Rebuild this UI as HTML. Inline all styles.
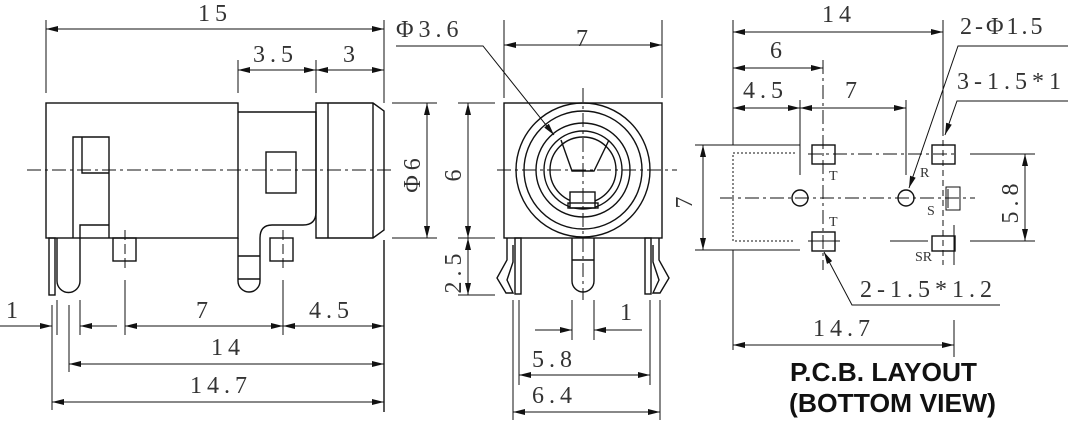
<!DOCTYPE html>
<html><head><meta charset="utf-8"><style>
html,body{margin:0;padding:0;background:#fff;}
svg{display:block;}
.t{font-family:"Liberation Serif",serif;font-size:24px;fill:#333;letter-spacing:5px;}
.s{font-family:"Liberation Serif",serif;font-size:14px;fill:#333;}
.b{font-family:"Liberation Sans",sans-serif;font-weight:bold;font-size:26px;fill:#111;}
</style></head><body>
<svg width="1069" height="422" viewBox="0 0 1069 422" xmlns="http://www.w3.org/2000/svg">
<defs>
<marker id="a" viewBox="0 0 12 6" refX="12" refY="3" markerWidth="12" markerHeight="6" markerUnits="userSpaceOnUse" orient="auto-start-reverse"><path d="M0,0 L12,3 L0,6 z" fill="#111"/></marker>
</defs>
<g stroke="#111" stroke-width="1.4" fill="none">
<!-- LEFT VIEW -->
<line x1="27" y1="170" x2="392" y2="170" stroke-dasharray="14,4,3,4" stroke-width="1"/>
<rect x="46" y="103" width="192" height="135"/>
<path d="M238,112 H316 V212 Q316,225 303,225 H272 Q260,225 260,238"/>
<path d="M316,103 H373 L384,111 V230 L373,238 H316 Z"/>
<line x1="328" y1="103" x2="328" y2="238"/>
<line x1="373" y1="103" x2="373" y2="238"/>
<rect x="266" y="152" width="30" height="41"/>
<path d="M73,238 V137 H109 V238"/>
<path d="M82,137 V173 H109"/>
<path d="M80,238 V225 H109"/>
<rect x="49" y="238" width="6" height="57"/>
<path d="M57,238 V281 A11.5,11.5 0 0 0 80,281 V238"/>
<path d="M238,238 V281 A11,11 0 0 0 260,281 V238"/>
<line x1="238" y1="256" x2="260" y2="256"/>
<line x1="238" y1="279" x2="260" y2="279"/>
<rect x="113" y="238" width="23" height="23"/>
<rect x="270" y="238" width="23" height="23"/>
<line x1="125" y1="230" x2="125" y2="268" stroke-dasharray="10,4" stroke-width="1"/>
<line x1="283" y1="230" x2="283" y2="268" stroke-dasharray="10,4" stroke-width="1"/>
<!-- left dims -->
<line x1="46" y1="20" x2="46" y2="93" stroke-width="1"/>
<line x1="384" y1="20" x2="384" y2="103" stroke-width="1"/>
<line x1="238" y1="60" x2="238" y2="93" stroke-width="1"/>
<line x1="316" y1="60" x2="316" y2="93" stroke-width="1"/>
<line x1="46" y1="29" x2="384" y2="29" stroke-width="1" marker-start="url(#a)" marker-end="url(#a)"/>
<line x1="238" y1="70" x2="316" y2="70" stroke-width="1" marker-start="url(#a)" marker-end="url(#a)"/>
<line x1="316" y1="70" x2="384" y2="70" stroke-width="1" marker-start="url(#a)" marker-end="url(#a)"/>
<line x1="384" y1="240" x2="384" y2="412" stroke-width="1.4"/>
<line x1="52" y1="305" x2="52" y2="410" stroke-width="1"/>
<line x1="57" y1="300" x2="57" y2="335" stroke-width="1"/>
<line x1="69" y1="305" x2="69" y2="372" stroke-width="1"/>
<line x1="80" y1="300" x2="80" y2="335" stroke-width="1"/>
<line x1="125" y1="280" x2="125" y2="335" stroke-width="1"/>
<line x1="283" y1="280" x2="283" y2="335" stroke-width="1"/>
<line x1="0" y1="326" x2="52" y2="326" stroke-width="1" marker-end="url(#a)"/>
<line x1="117" y1="326" x2="80" y2="326" stroke-width="1" marker-end="url(#a)"/>
<line x1="125" y1="326" x2="283" y2="326" stroke-width="1" marker-start="url(#a)" marker-end="url(#a)"/>
<line x1="283" y1="326" x2="384" y2="326" stroke-width="1" marker-start="url(#a)" marker-end="url(#a)"/>
<line x1="69" y1="364" x2="384" y2="364" stroke-width="1" marker-start="url(#a)" marker-end="url(#a)"/>
<line x1="52" y1="402" x2="384" y2="402" stroke-width="1" marker-start="url(#a)" marker-end="url(#a)"/>

<!-- MIDDLE VIEW -->
<rect x="504" y="103" width="158" height="135"/>
<circle cx="583" cy="170" r="67"/>
<circle cx="583" cy="170" r="59"/>
<circle cx="583" cy="170" r="47"/>
<circle cx="583" cy="170" r="39"/>
<circle cx="583" cy="170" r="33"/>
<path d="M561,140 L572,171 H594 L609,140"/>
<rect x="570" y="192" width="25" height="16" fill="#fff"/>
<rect x="568" y="203" width="30" height="5"/>
<line x1="497" y1="170" x2="677" y2="170" stroke-dasharray="14,4,3,4" stroke-width="1"/>
<line x1="583" y1="88" x2="583" y2="300" stroke-dasharray="14,4,3,4" stroke-width="1"/>
<rect x="515" y="238" width="6" height="56"/>
<rect x="645" y="238" width="6" height="56"/>
<path d="M507,238 V260 L497,278 L506,293 H513 L507,280 L513,262 V245"/>
<path d="M659,238 V260 L669,278 L660,293 H653 L659,280 L653,262 V245"/>
<path d="M572,238 V281 A11,11 0 0 0 594,281 V238"/>
<line x1="572" y1="260" x2="594" y2="260"/>
<!-- mid dims -->
<line x1="392" y1="103" x2="437" y2="103" stroke-width="1"/>
<line x1="392" y1="238" x2="437" y2="238" stroke-width="1"/>
<line x1="458" y1="103" x2="495" y2="103" stroke-width="1"/>
<line x1="458" y1="238" x2="495" y2="238" stroke-width="1"/>
<line x1="458" y1="295" x2="495" y2="295" stroke-width="1"/>
<line x1="427" y1="103" x2="427" y2="238" stroke-width="1" marker-start="url(#a)" marker-end="url(#a)"/>
<line x1="468" y1="103" x2="468" y2="238" stroke-width="1" marker-start="url(#a)" marker-end="url(#a)"/>
<line x1="468" y1="238" x2="468" y2="295" stroke-width="1" marker-start="url(#a)" marker-end="url(#a)"/>
<line x1="504" y1="20" x2="504" y2="98" stroke-width="1"/>
<line x1="662" y1="20" x2="662" y2="98" stroke-width="1"/>
<line x1="504" y1="45" x2="662" y2="45" stroke-width="1" marker-start="url(#a)" marker-end="url(#a)"/>
<path d="M396,46 H483 L554,135" stroke-width="1" marker-end="url(#a)"/>
<line x1="513" y1="300" x2="513" y2="420" stroke-width="1"/>
<line x1="519" y1="300" x2="519" y2="385" stroke-width="1"/>
<line x1="650" y1="300" x2="650" y2="385" stroke-width="1"/>
<line x1="660" y1="300" x2="660" y2="420" stroke-width="1"/>
<line x1="572" y1="300" x2="572" y2="340" stroke-width="1"/>
<line x1="594" y1="300" x2="594" y2="340" stroke-width="1"/>
<line x1="535" y1="330" x2="572" y2="330" stroke-width="1" marker-end="url(#a)"/>
<line x1="642" y1="330" x2="594" y2="330" stroke-width="1" marker-end="url(#a)"/>
<line x1="519" y1="375" x2="650" y2="375" stroke-width="1" marker-start="url(#a)" marker-end="url(#a)"/>
<line x1="513" y1="412" x2="660" y2="412" stroke-width="1" marker-start="url(#a)" marker-end="url(#a)"/>

<!-- RIGHT PCB VIEW -->
<line x1="733" y1="20" x2="733" y2="145" stroke-width="1"/>
<line x1="733" y1="250" x2="733" y2="350" stroke-width="1"/>
<line x1="943" y1="20" x2="943" y2="130" stroke-width="1"/>
<line x1="800" y1="100" x2="800" y2="175" stroke-width="1"/>
<line x1="906" y1="100" x2="906" y2="175" stroke-width="1"/>
<line x1="823" y1="60" x2="823" y2="270" stroke-dasharray="14,4,3,4" stroke-width="1"/>
<line x1="733" y1="32" x2="943" y2="32" stroke-width="1" marker-start="url(#a)" marker-end="url(#a)"/>
<line x1="733" y1="68" x2="823" y2="68" stroke-width="1" marker-start="url(#a)" marker-end="url(#a)"/>
<line x1="733" y1="108" x2="800" y2="108" stroke-width="1" marker-start="url(#a)" marker-end="url(#a)"/>
<line x1="800" y1="108" x2="906" y2="108" stroke-width="1" marker-start="url(#a)" marker-end="url(#a)"/>
<line x1="695" y1="145" x2="800" y2="145" stroke-width="1"/>
<line x1="695" y1="250" x2="800" y2="250" stroke-width="1"/>
<line x1="703" y1="145" x2="703" y2="250" stroke-width="1" marker-start="url(#a)" marker-end="url(#a)"/>
<path d="M795,153 H733 V241 H795" stroke-dasharray="2,2" stroke-width="1"/>
<line x1="808" y1="154" x2="955" y2="154" stroke-dasharray="14,4,3,4" stroke-width="1"/>
<line x1="720" y1="198" x2="975" y2="198" stroke-dasharray="14,4,3,4" stroke-width="1"/>
<line x1="890" y1="241" x2="928" y2="241" stroke-width="1"/>
<line x1="970" y1="154" x2="1035" y2="154" stroke-width="1"/>
<line x1="970" y1="241" x2="1035" y2="241" stroke-width="1"/>
<line x1="943" y1="130" x2="943" y2="265" stroke-dasharray="6,4" stroke-width="1"/>
<rect x="812" y="145" width="23" height="19"/>
<rect x="812" y="232" width="23" height="19"/>
<line x1="808" y1="241" x2="840" y2="241" stroke-width="1"/>
<rect x="932" y="145" width="23" height="19"/>
<rect x="932" y="236" width="23" height="15"/>
<line x1="954" y1="225" x2="954" y2="265" stroke-width="1"/>
<rect x="946" y="187" width="14" height="23" stroke-width="1"/>
<line x1="948" y1="189" x2="948" y2="208" stroke-width="1"/>
<circle cx="800" cy="198" r="8"/>
<circle cx="906" cy="198" r="8"/>
<line x1="1025" y1="154" x2="1025" y2="241" stroke-width="1" marker-start="url(#a)" marker-end="url(#a)"/>
<path d="M1068,46 H958 L909,188" stroke-width="1" marker-end="url(#a)"/>
<path d="M1068,101 H957 L945,135" stroke-width="1" marker-end="url(#a)"/>
<path d="M1000,305 H852 L824,252" stroke-width="1" marker-end="url(#a)"/>
<line x1="954" y1="320" x2="954" y2="357" stroke-width="1"/>
<line x1="733" y1="345" x2="954" y2="345" stroke-width="1" marker-start="url(#a)" marker-end="url(#a)"/>
</g>
<!-- text -->
<g class="t">
<text x="198" y="21">15</text>
<text x="253" y="62">3.5</text>
<text x="343" y="62">3</text>
<text x="6" y="318">1</text>
<text x="196" y="318">7</text>
<text x="309" y="318">4.5</text>
<text x="211" y="355">14</text>
<text x="190" y="393">14.7</text>
<text x="396" y="37">Φ3.6</text>
<text x="576" y="46">7</text>
<text x="420" y="173" transform="rotate(-90 420 173)" text-anchor="middle">Φ6</text>
<text x="461" y="173" transform="rotate(-90 461 173)" text-anchor="middle">6</text>
<text x="461" y="271" transform="rotate(-90 461 271)" text-anchor="middle">2.5</text>
<text x="620" y="320">1</text>
<text x="532" y="367">5.8</text>
<text x="532" y="403">6.4</text>
<text x="822" y="22">14</text>
<text x="770" y="58">6</text>
<text x="743" y="98">4.5</text>
<text x="845" y="98">7</text>
<text x="960" y="34" style="letter-spacing:3px">2-Φ1.5</text>
<text x="957" y="89">3-1.5*1</text>
<text x="860" y="297">2-1.5*1.2</text>
<text x="813" y="336">14.7</text>
<text x="692" y="200" transform="rotate(-90 692 200)" text-anchor="middle">7</text>
<text x="1018" y="201" transform="rotate(-90 1018 201)" text-anchor="middle">5.8</text>
</g>
<g class="s">
<text x="829" y="180">T</text>
<text x="829" y="226">T</text>
<text x="920" y="177">R</text>
<text x="927" y="215">S</text>
<text x="915" y="261">SR</text>
</g>
<text class="b" x="790" y="381" textLength="187" lengthAdjust="spacingAndGlyphs">P.C.B. LAYOUT</text>
<text class="b" x="789" y="412" textLength="207" lengthAdjust="spacingAndGlyphs">(BOTTOM VIEW)</text>
</svg>
</body></html>
